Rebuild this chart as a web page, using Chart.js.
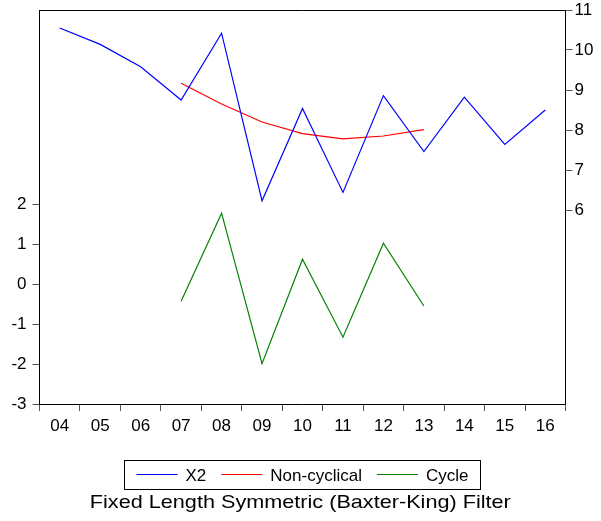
<!DOCTYPE html>
<html>
<head>
<meta charset="utf-8">
<script src="https://cdn.jsdelivr.net/npm/chart.js@4.4.0/dist/chart.umd.min.js"></script>
<style>
html,body{margin:0;padding:0;background:#fff;}
#wrap{width:601px;height:521px;position:relative;}
</style>
</head>
<body>
<div id="wrap"><canvas id="c"></canvas></div>
<script>
const categories = ['04','05','06','07','08','09','10','11','12','13','14','15','16'];
const x2 = [10.55, 10.14, 9.58, 8.75, 10.42, 6.23, 8.54, 6.44, 8.86, 7.46, 8.82, 7.64, 8.50];
const nonCyclical = [null, null, null, 9.17, 8.65, 8.20, 7.91, 7.78, 7.85, 8.01, null, null, null];
const cycle = [null, null, null, -0.43, 1.77, -1.99, 0.62, -1.33, 1.02, -0.55, null, null, null];
const leftTicks = [-3, -2, -1, 0, 1, 2];
const rightTicks = [6, 7, 8, 9, 10, 11];
const titleText = 'Fixed Length Symmetric (Baxter-King) Filter';

const FONT = "'Liberation Sans', Arial, sans-serif";
Chart.defaults.font.family = FONT;
Chart.defaults.font.size = 17;
Chart.defaults.color = '#000';

const frameAndLegend = {
  id: 'frameAndLegend',
  afterDraw(chart) {
    const ctx = chart.ctx;
    const a = chart.chartArea;
    ctx.save();
    ctx.strokeStyle = '#000';
    ctx.lineWidth = 1;
    ctx.beginPath();
    ctx.moveTo(a.left, Math.round(a.top) + 0.5);
    ctx.lineTo(a.right, Math.round(a.top) + 0.5);
    ctx.stroke();

    ctx.font = '17px ' + FONT;
    const ds = chart.data.datasets;
    const lineLen = 41, gapText = 8, gapItem = 15, pad = 12;
    let total = pad * 2;
    const widths = ds.map(d => ctx.measureText(d.label).width);
    widths.forEach((w, i) => { total += lineLen + gapText + w + (i < ds.length - 1 ? gapItem : 0); });
    const cx = 302;
    const bx = Math.round(cx - total / 2) + 0.5;
    const by = 460.5, bh = 29;
    ctx.strokeStyle = '#000';
    ctx.strokeRect(bx, by, Math.round(total), bh);
    let x = bx + pad;
    const ly = 474.5;
    ds.forEach((d, i) => {
      ctx.strokeStyle = d.borderColor;
      ctx.beginPath();
      ctx.moveTo(x, ly);
      ctx.lineTo(x + lineLen, ly);
      ctx.stroke();
      x += lineLen + gapText;
      ctx.fillStyle = '#000';
      ctx.textBaseline = 'alphabetic';
      ctx.textAlign = 'left';
      ctx.fillText(d.label, x, 480.7);
      x += widths[i] + gapItem;
    });

    ctx.font = '18.5px ' + FONT;
    ctx.textAlign = 'center';
    ctx.textBaseline = 'alphabetic';
    ctx.fillStyle = '#000';
    ctx.translate(300.3, 508.3);
    ctx.scale(1.17, 1);
    ctx.fillText(titleText, 0, 0);
    ctx.restore();
  }
};

function fitY(width) {
  return function (s) {
    s.width = width;
    s.paddingTop = 0;
    s.paddingBottom = 0;
  };
}

new Chart(document.getElementById('c'), {
  type: 'line',
  data: {
    labels: categories,
    datasets: [
      { label: 'X2', data: x2, yAxisID: 'yR', borderColor: '#0000FF', borderWidth: 1.2, pointRadius: 0, tension: 0, spanGaps: false },
      { label: 'Non-cyclical', data: nonCyclical, yAxisID: 'yR', borderColor: '#FF0000', borderWidth: 1.2, pointRadius: 0, tension: 0, spanGaps: false },
      { label: 'Cycle', data: cycle, yAxisID: 'yL', borderColor: '#008000', borderWidth: 1.2, pointRadius: 0, tension: 0, spanGaps: false }
    ]
  },
  options: {
    responsive: true,
    maintainAspectRatio: false,
    animation: false,
    layout: { padding: { top: 10, left: 0, right: 0, bottom: 0 } },
    plugins: { legend: { display: false }, title: { display: false }, tooltip: { enabled: false } },
    scales: {
      x: {
        type: 'category',
        offset: true,
        grid: { offset: true, drawOnChartArea: false, tickLength: 7, color: '#555', tickWidth: 1 },
        border: { display: true, color: '#000', width: 1 },
        ticks: { padding: 5, maxRotation: 0, autoSkip: false, color: '#000', font: { size: 17 } },
        afterFit(s) { s.height = 117; s.paddingLeft = 0; s.paddingRight = 0; }
      },
      yL: {
        type: 'linear',
        position: 'left',
        min: -3,
        max: 6.85,
        grid: { drawOnChartArea: false, tickLength: 7, color: '#555' },
        border: { display: true, color: '#000', width: 1 },
        ticks: { padding: 6, color: '#000', font: { size: 17 } },
        afterBuildTicks(s) { s.ticks = leftTicks.map(v => ({ value: v })); },
        afterFit: fitY(39.5)
      },
      yR: {
        type: 'linear',
        position: 'right',
        min: 1.15,
        max: 11,
        grid: { drawOnChartArea: false, tickLength: 7, color: '#555' },
        border: { display: true, color: '#000', width: 1 },
        ticks: { padding: 2, color: '#000', font: { size: 17 } },
        afterBuildTicks(s) { s.ticks = rightTicks.map(v => ({ value: v })); },
        afterFit: fitY(35.5)
      }
    }
  },
  plugins: [frameAndLegend]
});
</script>
</body>
</html>
